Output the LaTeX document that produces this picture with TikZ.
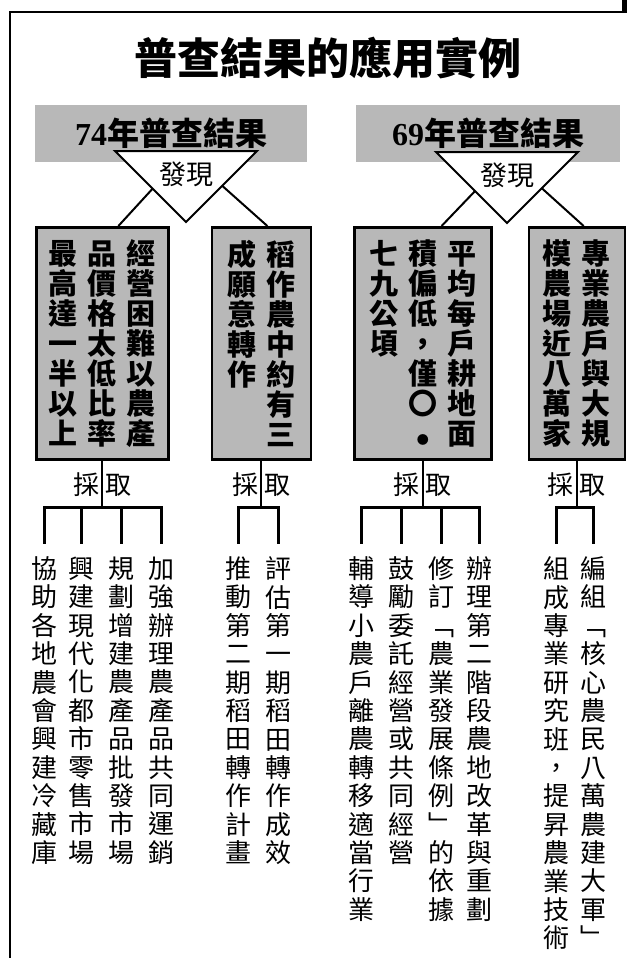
\documentclass[tikz,border=0pt]{standalone}
\usepackage{fontspec}
\setmainfont{Noto Sans CJK TC}
\newfontfamily\numfont{Liberation Serif}
\usepackage{tikz}
\usetikzlibrary{calc,
                positioning}

\colorlet{Stipple}{black!28}

% one column of characters, set from top to bottom
\ExplSyntaxOn
\NewDocumentCommand \vcol { m }
  {
    \vtop
      {
        \dim_set:Nn \lineskiplimit { -\maxdimen }
        \tl_map_inline:nn {#1}
          { \hbox_to_wd:nn { 1.35em } { \hss ##1 \hss } }
      }
  }
\ExplSyntaxOff

\begin{document}
\begin{tikzpicture}[x=1pt,y=-1pt]
  \tikzset{TitleNode/.style = {inner sep = 0, font = \fontsize{43}{43}\selectfont\bfseries}};
  \tikzset{BandNode/.style = {shape = rectangle, fill = Stipple, inner sep = 0, minimum height = 57pt, font = \fontsize{32}{32}\selectfont\bfseries}};
  \tikzset{FindNode/.style = {inner sep = 0, font = \fontsize{27}{27}\selectfont}};
  \tikzset{FactNode/.style = {shape = rectangle, fill = Stipple, draw = black, line width = 2.5pt, inner sep = 0, minimum height = 232pt, font = \fontsize{29}{30}\selectfont\bfseries}};
  \tikzset{TakeNode/.style = {inner sep = 0, font = \fontsize{26}{26}\selectfont}};
  \tikzset{ActNode/.style = {inner sep = 0, anchor = north, font = \fontsize{26}{28.4}\selectfont}};
  \tikzset{EdgeStyle/.style = {black, line width = 2pt}};
  \tikzset{BranchStyle/.style = {black, line width = 2.6pt, shorten >= 13pt}};

  \useasboundingbox (0,0) rectangle (633,958);
  \draw[line width = 2.2pt] (10,958) -- (10,12) -- (624,12);
  \draw[line width = 5pt] (624.5,0) -- (624.5,13);

  \node[TitleNode] (title) at (328,58) {普查結果的應用實例};

  \node[BandNode, minimum width = 272pt] (band74) at (171,133.5) {{\numfont 74}年普查結果};
  \node[BandNode, minimum width = 264pt] (band69) at (488,133.5) {{\numfont 69}年普查結果};

  % the two "found" triangles
  \coordinate (tri74 west) at (115,151);
  \coordinate (tri74 east) at (257,151);
  \coordinate (tri74 apex) at (186,222);
  \draw[EdgeStyle, fill = white] (tri74 west) -- (tri74 east) -- (tri74 apex) -- cycle;
  \node[FindNode] (find74) at (186,174) {發現};

  \coordinate (tri69 west) at (436,152);
  \coordinate (tri69 east) at (578,152);
  \coordinate (tri69 apex) at (507,223);
  \draw[EdgeStyle, fill = white] (tri69 west) -- (tri69 east) -- (tri69 apex) -- cycle;
  \node[FindNode] (find69) at (507,175) {發現};

  % findings
  \node[FactNode, minimum width = 132pt, anchor = north west] (fact74a) at (35,226) {\vcol{最高達一半以上}\vcol{品價格太低比率}\vcol{經營困難以農產}};
  \node[FactNode, minimum width = 99pt, right = 41pt of fact74a] (fact74b) {\vcol{成願意轉作}\vcol{稻作農中約有三}};
  \node[FactNode, minimum width = 137pt, anchor = north west] (fact69a) at (353,226) {\vcol{七九公頃}\vcol{積偏低，僅〇{\fontsize{12}{12}\selectfont ●}}\vcol{平均每戶耕地面}};
  \node[FactNode, minimum width = 96pt, right = 35pt of fact69a] (fact69b) {\vcol{模農場近八萬家}\vcol{專業農戶與大規}};

  \draw[EdgeStyle] ($(tri74 west)!0.53!(tri74 apex)$) to ($(fact74a.north west)!0.62!(fact74a.north east)$);
  \draw[EdgeStyle] ($(tri74 east)!0.49!(tri74 apex)$) to ($(fact74b.north west)!0.56!(fact74b.north east)$);
  \draw[EdgeStyle] ($(tri69 west)!0.55!(tri69 apex)$) to ($(fact69a.north west)!0.635!(fact69a.north east)$);
  \draw[EdgeStyle] ($(tri69 east)!0.51!(tri69 apex)$) to ($(fact69b.north west)!0.57!(fact69b.north east)$);

  % what is taken up
  \node[TakeNode, below = 12pt of fact74a] (take74a) {採\hspace{6pt}取};
  \node[TakeNode, below = 12pt of fact74b] (take74b) {採\hspace{6pt}取};
  \node[TakeNode, below = 12pt of fact69a] (take69a) {採\hspace{6pt}取};
  \node[TakeNode, below = 12pt of fact69b] (take69b) {採\hspace{6pt}取};

  \coordinate (fork74a) at ($(fact74a.south)+(0,47)$);
  \coordinate (fork74b) at ($(fact74b.south)+(0,47)$);
  \coordinate (fork69a) at ($(fact69a.south)+(0,47)$);
  \coordinate (fork69b) at ($(fact69b.south)+(0,47)$);

  \node[ActNode, below = 96pt of fact74a, xshift = -58pt] (act74a1) {\vcol{協助各地農會興建冷藏庫}};
  \node[ActNode, below = 96pt of fact74a, xshift = -21pt] (act74a2) {\vcol{興建現代化都市零售市場}};
  \node[ActNode, below = 96pt of fact74a, xshift = 19pt] (act74a3) {\vcol{規劃增建農產品批發市場}};
  \node[ActNode, below = 96pt of fact74a, xshift = 59pt] (act74a4) {\vcol{加強辦理農產品共同運銷}};
  \node[ActNode, below = 96pt of fact74b, xshift = -22.5pt] (act74b1) {\vcol{推動第二期稻田轉作計畫}};
  \node[ActNode, below = 96pt of fact74b, xshift = 17.5pt] (act74b2) {\vcol{評估第一期稻田轉作成效}};
  \node[ActNode, below = 96pt of fact69a, xshift = -61.5pt] (act69a1) {\vcol{輔導小農戶離農轉移適當行業}};
  \node[ActNode, below = 96pt of fact69a, xshift = -21.5pt] (act69a2) {\vcol{鼓勵委託經營或共同經營}};
  \node[ActNode, below = 96pt of fact69a, xshift = 18.5pt] (act69a3) {\vcol{修訂﹁農業發展條例﹂的依據}};
  \node[ActNode, below = 96pt of fact69a, xshift = 56.5pt] (act69a4) {\vcol{辦理第二階段農地改革與重劃}};
  \node[ActNode, below = 96pt of fact69b, xshift = -20pt] (act69b1) {\vcol{組成專業研究班，提昇農業技術}};
  \node[ActNode, below = 96pt of fact69b, xshift = 17pt] (act69b2) {\vcol{編組﹁核心農民八萬農建大軍﹂}};

  \draw[EdgeStyle] (fact74a.south) to (fork74a);
  \draw[EdgeStyle] (fact74b.south) to (fork74b);
  \draw[EdgeStyle] (fact69a.south) to (fork69a);
  \draw[EdgeStyle] (fact69b.south) to (fork69b);

  \draw[BranchStyle] (fork74a) -| (act74a1.north);
  \draw[BranchStyle] (fork74a) -| (act74a2.north);
  \draw[BranchStyle] (fork74a) -| (act74a3.north);
  \draw[BranchStyle] (fork74a) -| (act74a4.north);
  \draw[BranchStyle] (fork74b) -| (act74b1.north);
  \draw[BranchStyle] (fork74b) -| (act74b2.north);
  \draw[BranchStyle] (fork69a) -| (act69a1.north);
  \draw[BranchStyle] (fork69a) -| (act69a2.north);
  \draw[BranchStyle] (fork69a) -| (act69a3.north);
  \draw[BranchStyle] (fork69a) -| (act69a4.north);
  \draw[BranchStyle] (fork69b) -| (act69b1.north);
  \draw[BranchStyle] (fork69b) -| (act69b2.north);
\end{tikzpicture}
\end{document}
